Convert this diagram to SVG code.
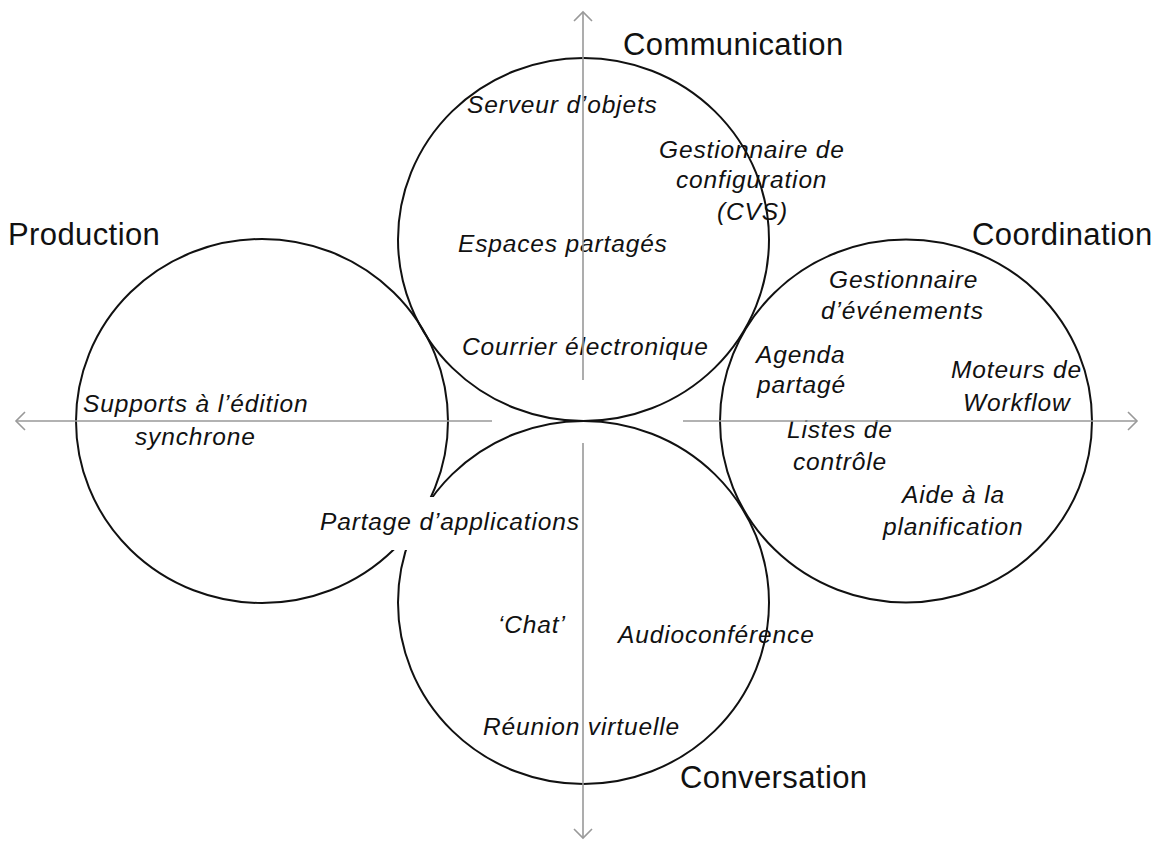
<svg xmlns="http://www.w3.org/2000/svg" width="1154" height="841" viewBox="0 0 1154 841">
  <style>
    .circle { fill: none; stroke: #111; stroke-width: 2; }
    .axis { stroke: #999; stroke-width: 1.6; fill: none; }
    .big { font-family: "Liberation Sans", Arial, sans-serif; font-size: 31px; letter-spacing: 0.4px; fill: #111; }
    .lbl { font-family: "Liberation Sans", Arial, sans-serif; font-size: 24.5px; font-style: italic; letter-spacing: 0.85px; fill: #111; }
  </style>
  <defs>
    <marker id="chev" viewBox="0 0 20 20" markerWidth="20" markerHeight="20" refX="10" refY="10" orient="auto" markerUnits="userSpaceOnUse">
      <path d="M1 1 L10 10 L1 19" fill="none" stroke="#999" stroke-width="1.6"/>
    </marker>
  </defs>
  <rect x="0" y="0" width="1154" height="841" fill="#fff"/>

  <g id="communication">
    <ellipse class="circle" cx="583.5" cy="239.5" rx="185.5" ry="181.5"/>
    <text class="big" x="623" y="55">Communication</text>
    <text class="lbl" x="467" y="113">Serveur d’objets</text>
    <text class="lbl"><tspan x="659" y="158">Gestionnaire de</tspan><tspan x="676" y="188">configuration</tspan><tspan x="717" y="220">(CVS)</tspan></text>
    <text class="lbl" x="458" y="252">Espaces partagés</text>
    <text class="lbl" x="462" y="355">Courrier électronique</text>
  </g>

  <g id="production">
    <ellipse class="circle" cx="262" cy="421" rx="186" ry="182"/>
    <text class="big" x="8" y="245">Production</text>
    <text class="lbl"><tspan x="83" y="412">Supports à l’édition</tspan><tspan x="135" y="445">synchrone</tspan></text>
  </g>

  <g id="coordination">
    <ellipse class="circle" cx="906" cy="421" rx="186" ry="181.5"/>
    <text class="big" x="972" y="245">Coordination</text>
    <text class="lbl"><tspan x="829" y="288">Gestionnaire</tspan><tspan x="821" y="319">d’événements</tspan></text>
    <text class="lbl"><tspan x="756" y="363">Agenda</tspan><tspan x="757" y="393">partagé</tspan></text>
    <text class="lbl"><tspan x="951" y="378">Moteurs de</tspan><tspan x="963" y="411">Workflow</tspan></text>
    <text class="lbl"><tspan x="787" y="438">Listes de</tspan><tspan x="793" y="470">contrôle</tspan></text>
    <text class="lbl"><tspan x="902" y="503">Aide à la</tspan><tspan x="883" y="535">planification</tspan></text>
  </g>

  <g id="conversation">
    <ellipse class="circle" cx="583.5" cy="602.5" rx="185.5" ry="181.5"/>
    <text class="big" x="680" y="788">Conversation</text>
    <text class="lbl" x="498" y="633">‘Chat’</text>
    <text class="lbl" x="618" y="643">Audioconférence</text>
    <text class="lbl" x="483" y="735">Réunion virtuelle</text>
  </g>

  <g id="partage">
    <rect x="316" y="497" width="265" height="53" fill="#fff"/>
    <text class="lbl" x="320" y="530">Partage d’applications</text>
  </g>

  <g id="connectors">
    <line class="axis" x1="583" y1="380" x2="583" y2="12" marker-end="url(#chev)"/>
    <line class="axis" x1="583" y1="443" x2="583" y2="838" marker-end="url(#chev)"/>
    <line class="axis" x1="492" y1="421" x2="16" y2="421" marker-end="url(#chev)"/>
    <line class="axis" x1="683" y1="421" x2="1137" y2="421" marker-end="url(#chev)"/>
  </g>
</svg>
